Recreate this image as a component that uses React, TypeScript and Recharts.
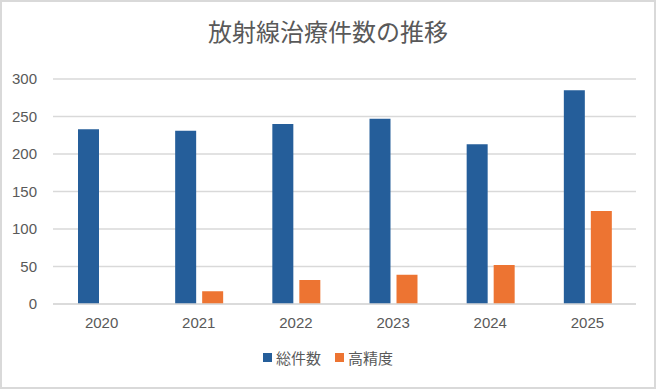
import { Bar, BarChart, CartesianGrid, XAxis, YAxis } from "recharts";

const years = ["2020", "2021", "2022", "2023", "2024", "2025"];
const totalCounts = [233, 231, 240, 247, 213, 285];
const highPrecision = [null, 17, 32, 39, 52, 124];
const yTicks = [0, 50, 100, 150, 200, 250, 300];

const seriesNames = { total: "総件数", precise: "高精度" };
const colors = { total: "#255E9A", precise: "#ED7432" };

const chartData = years.map((year, i) => ({
  year,
  total: totalCounts[i],
  precise: highPrecision[i],
}));

const fontFamily = '"Liberation Sans", "Noto Sans CJK JP", sans-serif';

export default function App() {
  return (
    <div
      style={{
        position: "fixed",
        top: 0,
        left: 0,
        width: 656,
        height: 389,
        background: "#fff",
        fontFamily,
      }}
    >
      <div
        style={{
          position: "absolute",
          inset: 0,
          border: "2px solid #d9d9d9",
          boxSizing: "border-box",
          pointerEvents: "none",
        }}
      />
      <div
        style={{
          position: "absolute",
          top: 16,
          left: 0,
          width: 656,
          textAlign: "center",
          fontSize: 24,
          lineHeight: "34px",
          color: "#595959",
        }}
      >
        放射線治療件数の推移
      </div>

      <BarChart
        width={656}
        height={389}
        data={chartData}
        margin={{ top: 79, right: 20, bottom: 55, left: 0 }}
        barSize={21}
        barGap={6}
        style={{ position: "absolute", top: 0, left: 0 }}
      >
        <CartesianGrid vertical={false} stroke="#d9d9d9" strokeWidth={1.3} />
        <XAxis
          dataKey="year"
          axisLine={{ stroke: "#d9d9d9", strokeWidth: 1.3 }}
          tickLine={false}
          tickMargin={7}
          tick={{ fontSize: 15, fill: "#595959", fontFamily }}
        />
        <YAxis
          width={53}
          domain={[0, 300]}
          ticks={yTicks}
          axisLine={false}
          tickLine={false}
          tickMargin={10}
          tick={{ fontSize: 15, fill: "#595959", fontFamily }}
        />
        <Bar dataKey="total" fill={colors.total} isAnimationActive={false} />
        <Bar dataKey="precise" fill={colors.precise} isAnimationActive={false} />
      </BarChart>

      <div
        style={{
          position: "absolute",
          top: 347,
          left: 0,
          width: 656,
          display: "flex",
          justifyContent: "center",
          alignItems: "center",
          fontSize: 15,
          color: "#595959",
        }}
      >
        {(["total", "precise"] as const).map((key) => (
          <div key={key} style={{ display: "flex", alignItems: "center", margin: "0 7px" }}>
            <span
              style={{
                display: "inline-block",
                width: 9,
                height: 9,
                background: colors[key],
                marginRight: 4,
              }}
            />
            <span>{seriesNames[key]}</span>
          </div>
        ))}
      </div>
    </div>
  );
}
